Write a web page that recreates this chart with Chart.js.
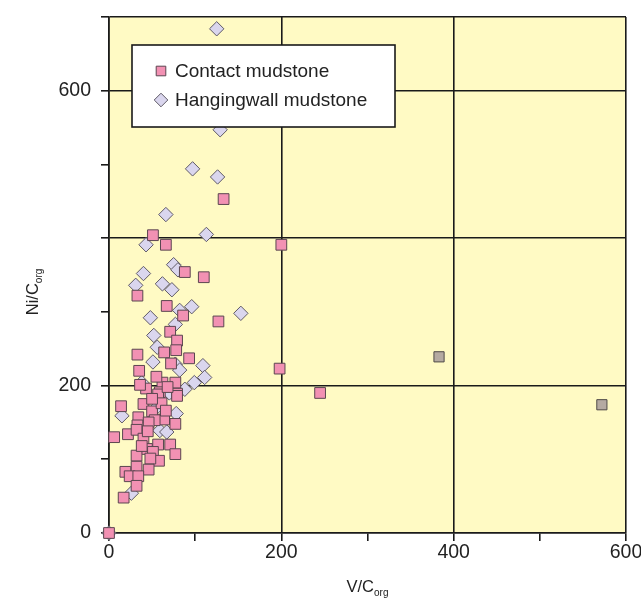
<!DOCTYPE html>
<html>
<head>
<meta charset="utf-8">
<script src="https://cdn.jsdelivr.net/npm/chart.js@4/dist/chart.umd.min.js"></script>
<style>
  html, body { margin: 0; padding: 0; background: #ffffff; }
  #c { display: block; }
</style>
</head>
<body>
<canvas id="c" width="641" height="604"></canvas>
<script>
// ---- data ----
const seriesNames = ["Contact mudstone", "Hangingwall mudstone"];

const contactV  = [133, 51, 66, 88, 110, 200, 33, 67, 86, 127, 71, 79, 78, 64, 33, 93, 35, 198, 62, 77,
                   43, 59, 79, 245, 36, 57, 79, 14, 40, 50, 61, 64, 77, 53, 34, 46, 33, 6, 22, 32,
                   40, 57, 71, 77, 44, 32, 51, 58, 48, 46, 32, 19, 24, 34, 32, 17, 0, 68, 50, 66, 45,
                   55, 72, 38];
const contactNi = [453, 404, 391, 354, 347, 391, 322, 308, 295, 287, 273, 261, 248, 245, 242, 237, 220, 223, 204, 204,
                   196, 191, 189, 190, 201, 188, 186, 172, 175, 165, 176, 154, 148, 153, 157, 150, 146, 130, 134, 140,
                   128, 120, 120, 107, 114, 105, 110, 98, 101, 86, 90, 83, 77, 77, 64, 48, 0, 198, 182, 166, 138,
                   212, 230, 118];

const hangingV  = [125, 129, 97, 126, 66, 43, 113, 75, 80, 40, 31, 62, 73, 96, 82, 48, 153, 77, 52, 56,
                   51, 77, 109, 82, 111, 99, 38, 15, 78, 59, 67, 26, 0, 70, 55, 88];
const hangingNi = [684, 547, 494, 483, 432, 391, 405, 364, 357, 352, 336, 338, 330, 307, 302, 292, 298, 283, 268, 252,
                   232, 229, 227, 221, 211, 204, 204, 159, 162, 139, 137, 54, 0, 190, 170, 195];

// two grey squares not listed in the legend
const otherV  = [383, 572];
const otherNi = [239, 174];

const xTickLabels = [0, 200, 400, 600];
const yTickLabels = [0, 200, 600];

const toPts = (xs, ys) => xs.map((v, i) => ({ x: v, y: ys[i] }));

// ---- plugins ----
const bgPlugin = {
  id: 'bg',
  beforeDraw(chart) {
    const a = chart.chartArea, ctx = chart.ctx;
    ctx.save();
    ctx.fillStyle = '#FFFAC4';
    ctx.fillRect(a.left, a.top, a.right - a.left, a.bottom - a.top);
    ctx.restore();
  }
};

function drawSubTitle(ctx, main, sub, mainFont, subFont) {
  ctx.font = mainFont;
  const w1 = ctx.measureText(main).width;
  ctx.font = subFont;
  const w2 = ctx.measureText(sub).width;
  const total = w1 + w2;
  ctx.textBaseline = 'alphabetic';
  ctx.textAlign = 'left';
  ctx.font = mainFont;
  ctx.fillText(main, -total / 2, 6);
  ctx.font = subFont;
  ctx.fillText(sub, -total / 2 + w1, 10);
}

const titlePlugin = {
  id: 'titles',
  afterDraw(chart) {
    const a = chart.chartArea, ctx = chart.ctx;
    ctx.save();
    ctx.fillStyle = '#222';
    ctx.save();
    ctx.translate((a.left + a.right) / 2, 586);
    drawSubTitle(ctx, 'V/C', 'org', '16.5px "Liberation Sans", Arial, sans-serif', '10px "Liberation Sans", Arial, sans-serif');
    ctx.restore();
    ctx.save();
    ctx.translate(32, 292);
    ctx.rotate(-Math.PI / 2);
    drawSubTitle(ctx, 'Ni/C', 'org', '16.5px "Liberation Sans", Arial, sans-serif', '10px "Liberation Sans", Arial, sans-serif');
    ctx.restore();
    ctx.restore();
  }
};

const legendPlugin = {
  id: 'boxLegend',
  afterDatasetsDraw(chart) {
    const ctx = chart.ctx;
    const bx = 132, by = 45, bw = 263, bh = 82;
    ctx.save();
    ctx.fillStyle = '#ffffff';
    ctx.fillRect(bx, by, bw, bh);
    ctx.lineWidth = 1.6;
    ctx.strokeStyle = '#1a1a1a';
    ctx.strokeRect(bx, by, bw, bh);
    const rows = [71, 100];
    [0, 1].forEach((i) => {
      const ds = chart.data.datasets[i];
      ctx.fillStyle = ds.backgroundColor;
      ctx.strokeStyle = ds.borderColor;
      ctx.lineWidth = 1;
      Chart.helpers.drawPoint(ctx, {
        pointStyle: ds.pointStyle,
        radius: 6.8,
        rotation: 0,
        borderWidth: 1
      }, 161, rows[i]);
      ctx.fillStyle = '#222';
      ctx.font = '19px "Liberation Sans", Arial, sans-serif';
      ctx.textBaseline = 'middle';
      ctx.textAlign = 'left';
      ctx.fillText(ds.label, 175, rows[i] + 1);
    });
    ctx.restore();
  }
};

const lineCol = '#1a1a1a';
const gridColor = (ctx) => {
  const v = ctx.tick ? ctx.tick.value : null;
  return (v !== null && (v % 200 === 0 || v === 700)) ? lineCol : 'rgba(0,0,0,0)';
};

new Chart(document.getElementById('c'), {
  type: 'scatter',
  data: {
    datasets: [
      {
        label: seriesNames[0],
        data: toPts(contactV, contactNi),
        pointStyle: 'rect',
        pointRadius: 7.6,
        backgroundColor: '#F291B3',
        borderColor: '#5b4650',
        borderWidth: 1
      },
      {
        label: seriesNames[1],
        data: toPts(hangingV, hangingNi),
        pointStyle: 'rectRot',
        pointRadius: 7.2,
        backgroundColor: '#DAD6EE',
        borderColor: '#5f5a66',
        borderWidth: 1
      },
      {
        label: 'other',
        data: toPts(otherV, otherNi),
        pointStyle: 'rect',
        pointRadius: 7.2,
        backgroundColor: '#B5AAA2',
        borderColor: '#4f4a48',
        borderWidth: 1
      }
    ]
  },
  options: {
    responsive: false,
    animation: false,
    clip: false,
    layout: { padding: { left: 0, top: 17, right: 15, bottom: 0 } },
    plugins: {
      legend: { display: false },
      tooltip: { enabled: false }
    },
    scales: {
      x: {
        type: 'linear',
        min: 0, max: 600,
        afterFit: (s) => { s.height = 71; s.paddingLeft = 0; s.paddingRight = 0; },
        border: { display: true, color: lineCol, width: 1.6 },
        grid: { color: gridColor, tickColor: lineCol, lineWidth: 1.6, tickLength: 8, drawTicks: true },
        ticks: {
          stepSize: 100,
          autoSkip: false,
          maxRotation: 0,
          padding: 0,
          color: '#222',
          font: { family: '"Liberation Sans", Arial, sans-serif', size: 19.5 },
          callback: (v) => xTickLabels.includes(v) ? String(v) : ''
        }
      },
      y: {
        type: 'linear',
        min: 0, max: 700,
        afterFit: (s) => { s.width = 109; s.paddingTop = 0; s.paddingBottom = 0; },
        border: { display: true, color: lineCol, width: 1.6 },
        grid: { color: gridColor, tickColor: lineCol, lineWidth: 1.6, tickLength: 8, drawTicks: true },
        ticks: {
          stepSize: 100,
          autoSkip: false,
          padding: 10,
          color: '#222',
          font: { family: '"Liberation Sans", Arial, sans-serif', size: 19.5 },
          callback: (v) => yTickLabels.includes(v) ? String(v) : ''
        }
      }
    }
  },
  plugins: [bgPlugin, legendPlugin, titlePlugin]
});
</script>
</body>
</html>
